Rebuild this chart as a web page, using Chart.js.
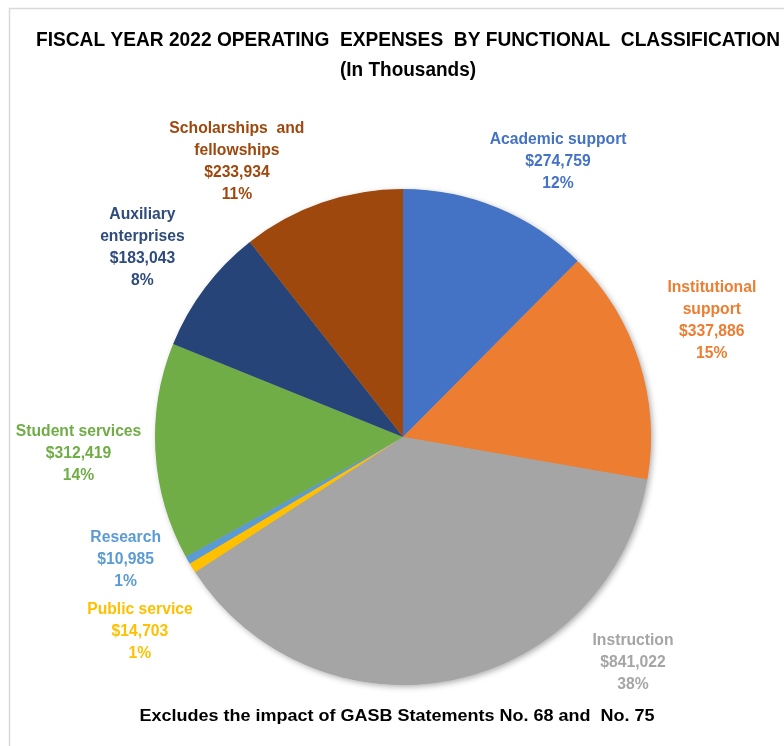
<!DOCTYPE html>
<html>
<head>
<meta charset="utf-8">
<script src="https://cdn.jsdelivr.net/npm/chart.js@4"></script>
<style>
  body { margin: 0; background: #fff; }
  canvas { display: block; }
</style>
</head>
<body>
<canvas id="chart" width="784" height="746"></canvas>
<script>
const categories = ['Academic support', 'Institutional support', 'Instruction', 'Public service', 'Research', 'Student services', 'Auxiliary enterprises', 'Scholarships and fellowships']
const labelLines = [['Academic support'], ['Institutional', 'support'], ['Instruction'], ['Public service'], ['Research'], ['Student services'], ['Auxiliary', 'enterprises'], ['Scholarships  and', 'fellowships']]
const amounts = [274759, 337886, 841022, 14703, 10985, 312419, 183043, 233934]
const percents = ['12%', '15%', '38%', '1%', '1%', '14%', '8%', '11%']
const titleLines = ['FISCAL YEAR 2022 OPERATING  EXPENSES  BY FUNCTIONAL  CLASSIFICATION', '(In Thousands)']
const footnote = 'Excludes the impact of GASB Statements No. 68 and  No. 75'

const colors = ['#4472C4', '#ED7D31', '#A5A5A5', '#FFC000', '#5B9BD5', '#70AD47', '#264478', '#9E480E']
const labelColors = ['#4472C4', '#ED7D31', '#A5A5A5', '#FFC000', '#5B9BD5', '#70AD47', '#2F4B7C', '#9E480E']
// label placement: angle nudge (deg) from slice middle, distance as share of radius
const labelTurn = [7, -3, -34, -4.6, 6, 0.5, -1, -12]
const labelDist = [1.274, 1.331, 1.298, 1.319, 1.222, 1.31, 1.298, 1.298]

const FONT = '"Liberation Sans", Arial, sans-serif'

const Utils = {
  money(v) {
    return '$' + v.toLocaleString('en-US')
  },
  // draw text, optionally squeezed to a given width
  text(ctx, str, x, y, size, color, squeeze, width) {
    ctx.save()
    ctx.font = `bold ${size}px ${FONT}`
    ctx.fillStyle = color
    ctx.textAlign = 'center'
    ctx.textBaseline = 'middle'
    let sx = squeeze
    if (width) sx = width / ctx.measureText(str).width
    ctx.translate(x, y)
    ctx.scale(sx, 1)
    ctx.fillText(str, 0, 0)
    ctx.restore()
  }
}

const decor = {
  id: 'decor',
  beforeDatasetsDraw(chart) {
    const ctx = chart.ctx
    const arc = chart.getDatasetMeta(0).data[0]
    // frame lines
    ctx.save()
    ctx.strokeStyle = '#D9D9D9'
    ctx.lineWidth = 1.5
    ctx.beginPath()
    ctx.moveTo(9.5, 746)
    ctx.lineTo(9.5, 8.5)
    ctx.lineTo(784, 8.5)
    ctx.stroke()
    // soft shadow under the pie
    ctx.shadowColor = 'rgba(0,0,0,0.35)'
    ctx.shadowBlur = 6
    ctx.shadowOffsetX = 2
    ctx.shadowOffsetY = 2
    ctx.fillStyle = '#A5A5A5'
    ctx.beginPath()
    ctx.arc(arc.x, arc.y, arc.outerRadius - 0.5, 0, Math.PI * 2)
    ctx.fill()
    ctx.restore()
  },
  afterDatasetsDraw(chart) {
    const ctx = chart.ctx
    Utils.text(ctx, titleLines[0], 408, 40, 20, '#000', 1, 744)
    Utils.text(ctx, titleLines[1], 408, 70, 20, '#000', 1, 136)
    Utils.text(ctx, footnote, 397, 716, 17, '#000', 1, 515)

    chart.getDatasetMeta(0).data.forEach((arc, i) => {
      const mid = (arc.startAngle + arc.endAngle) / 2 + labelTurn[i] * Math.PI / 180
      const r = arc.outerRadius * labelDist[i]
      const cx = arc.x + Math.cos(mid) * r
      const cy = arc.y + Math.sin(mid) * r
      const lines = labelLines[i].concat([Utils.money(amounts[i]), percents[i]])
      const lh = 22
      const top = cy - (lines.length - 1) * lh / 2
      lines.forEach((line, k) => {
        Utils.text(ctx, line, cx, top + k * lh, 16, labelColors[i], 0.98)
      })
    })
  }
}

new Chart(document.getElementById('chart'), {
  type: 'pie',
  data: {
    labels: categories,
    datasets: [{
      data: amounts,
      backgroundColor: colors,
      borderColor: colors,
      borderWidth: 0
    }]
  },
  options: {
    responsive: false,
    animation: false,
    layout: {
      padding: { left: 155, right: 133, top: 189, bottom: 61 }
    },
    plugins: {
      legend: { display: false },
      tooltip: { enabled: false }
    }
  },
  plugins: [decor]
})
</script>
</body>
</html>
